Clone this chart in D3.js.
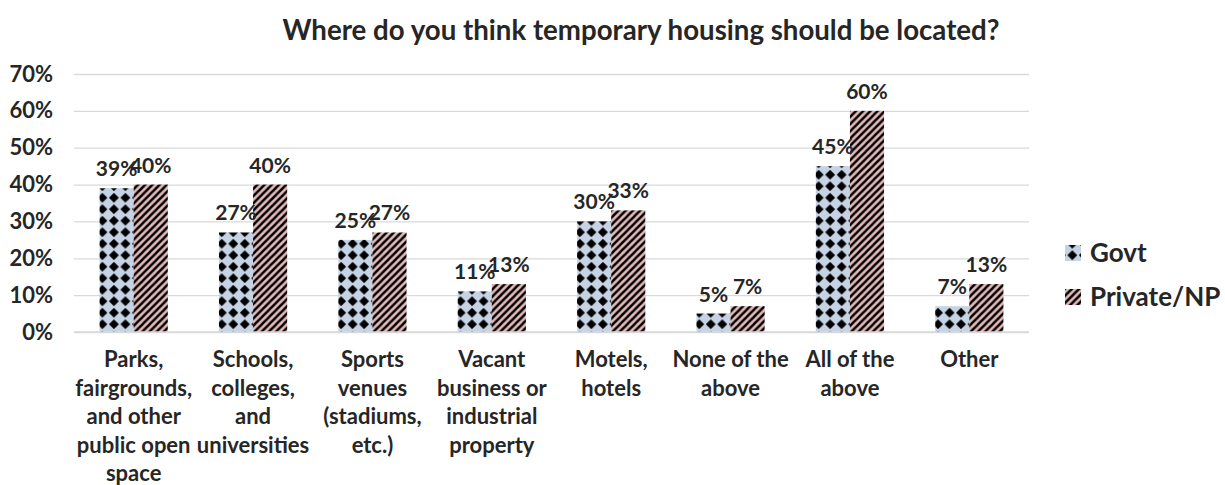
<!DOCTYPE html>
<html>
<head>
<meta charset="utf-8">
<script src="https://cdn.jsdelivr.net/npm/d3@7"></script>
<style>
  body { margin: 0; background: #fff; }
  svg { display: block; }
  text { font-family: Lato, "Noto Sans", sans-serif; font-weight: 700; fill: #262626; }
</style>
</head>
<body>
<svg id="chart" width="1225" height="485"></svg>
<script>
// Survey responses, share of respondents by organisation type
const chartTitle = "Where do you think temporary housing should be located?";
const categories = [
  ["Parks,", "fairgrounds,", "and other", "public open", "space"],
  ["Schools,", "colleges,", "and", "universities"],
  ["Sports", "venues", "(stadiums,", "etc.)"],
  ["Vacant", "business or", "industrial", "property"],
  ["Motels,", "hotels"],
  ["None of the", "above"],
  ["All of the", "above"],
  ["Other"]
];
const seriesNames = ["Govt", "Private/NP"];
const govt = [39, 27, 25, 11, 30, 5, 45, 7];
const privateNP = [40, 40, 27, 13, 33, 7, 60, 13];
const yTicks = [0, 10, 20, 30, 40, 50, 60, 70];

const svg = d3.select("#chart");
const plot = { left: 74, right: 1029, top: 74, bottom: 332 };

const x0 = d3.scaleBand()
  .domain(d3.range(categories.length))
  .range([plot.left, plot.right])
  .paddingInner(1.5 / 3.5)
  .paddingOuter(0.75 / 3.5);
const x1 = d3.scaleBand()
  .domain(seriesNames)
  .range([0, x0.bandwidth()]);
const y = d3.scaleLinear().domain([0, 70]).range([plot.bottom, plot.top]);

// Fill patterns: diamonds on pale blue, diagonal stripes on pale pink
const defs = svg.append("defs");
const dTile = 11.5, dHalf = 4.6;
const govtPat = defs.append("pattern")
  .attr("id", "pat-govt").attr("patternUnits", "userSpaceOnUse")
  .attr("width", dTile).attr("height", dTile)
  .attr("x", x0(0) + 1).attr("y", plot.bottom - 2);
govtPat.append("rect").attr("width", dTile).attr("height", dTile).attr("fill", "#c6d3e4");
govtPat.append("path")
  .attr("d", `M${dTile/2},${dTile/2 - dHalf} L${dTile/2 + dHalf},${dTile/2} L${dTile/2},${dTile/2 + dHalf} L${dTile/2 - dHalf},${dTile/2} Z`)
  .attr("fill", "#000").attr("stroke", "#000").attr("stroke-width", 0.6).attr("stroke-linejoin", "round");

const sTile = 7.2;
const privPat = defs.append("pattern")
  .attr("id", "pat-priv").attr("patternUnits", "userSpaceOnUse")
  .attr("width", sTile).attr("height", sTile);
privPat.append("rect").attr("width", sTile).attr("height", sTile).attr("fill", "#e3bab8");
privPat.append("path")
  .attr("d", `M0,${sTile} L${sTile},0 M-2,2 L2,-2 M${sTile - 2},${sTile + 2} L${sTile + 2},${sTile - 2}`)
  .attr("stroke", "#000").attr("stroke-width", 2.4);

const fills = { "Govt": "url(#pat-govt)", "Private/NP": "url(#pat-priv)" };

// Gridlines and y-axis labels
const yAxis = d3.axisLeft(y)
  .tickValues(yTicks)
  .tickFormat(d => d + "%")
  .tickSizeInner(-(plot.right - plot.left))
  .tickSizeOuter(0)
  .tickPadding(21);
const gy = svg.append("g").attr("transform", `translate(${plot.left},0)`).call(yAxis);
gy.select(".domain").remove();
gy.selectAll(".tick line").attr("stroke", "#d9d9d9").attr("stroke-width", 1.3);
gy.selectAll(".tick text")
  .attr("font-size", 22).attr("font-family", "Lato, 'Noto Sans', sans-serif")
  .attr("font-weight", 700).attr("fill", "#262626");

// Bars
const rows = categories.map((c, i) => ({
  i,
  values: [
    { key: "Govt", v: govt[i] },
    { key: "Private/NP", v: privateNP[i] }
  ]
}));

const groups = svg.append("g").selectAll("g")
  .data(rows).join("g")
  .attr("transform", d => `translate(${x0(d.i)},0)`);

groups.selectAll("rect")
  .data(d => d.values).join("rect")
  .attr("x", d => x1(d.key))
  .attr("y", d => y(d.v))
  .attr("width", x1.bandwidth())
  .attr("height", d => y(0) - y(d.v))
  .attr("fill", d => fills[d.key]);

// Baseline drawn over the bar bottoms
svg.append("line")
  .attr("x1", plot.left).attr("x2", plot.right)
  .attr("y1", y(0)).attr("y2", y(0))
  .attr("stroke", "#d9d9d9").attr("stroke-width", 1.3);

// Value labels
groups.selectAll("text.value")
  .data(d => d.values).join("text")
  .attr("class", "value")
  .attr("x", d => x1(d.key) + x1.bandwidth() / 2)
  .attr("y", d => y(d.v) - 12)
  .attr("text-anchor", "middle")
  .attr("font-size", 21)
  .text(d => d.v + "%");

// Category labels (multi-line)
const catG = svg.append("g");
categories.forEach((lines, i) => {
  const t = catG.append("text")
    .attr("x", x0(i) + x0.bandwidth() / 2)
    .attr("y", 367)
    .attr("text-anchor", "middle")
    .attr("font-size", 22);
  lines.forEach((ln, k) => {
    t.append("tspan")
      .attr("x", x0(i) + x0.bandwidth() / 2)
      .attr("dy", k === 0 ? 0 : 28.5)
      .text(ln);
  });
});

// Title
svg.append("text")
  .attr("x", 641).attr("y", 40)
  .attr("text-anchor", "middle")
  .attr("font-size", 28)
  .attr("textLength", 717)
  .attr("lengthAdjust", "spacingAndGlyphs")
  .text(chartTitle);

// Legend
const legend = svg.append("g");
seriesNames.forEach((name, k) => {
  const cy = 253 + k * 44;
  legend.append("rect")
    .attr("x", 1065).attr("y", cy - 8)
    .attr("width", 16).attr("height", 16)
    .attr("fill", fills[name]);
  legend.append("text")
    .attr("x", 1090).attr("y", cy)
    .attr("dy", "0.36em")
    .attr("font-size", 26)
    .text(name);
});
</script>
</body>
</html>
